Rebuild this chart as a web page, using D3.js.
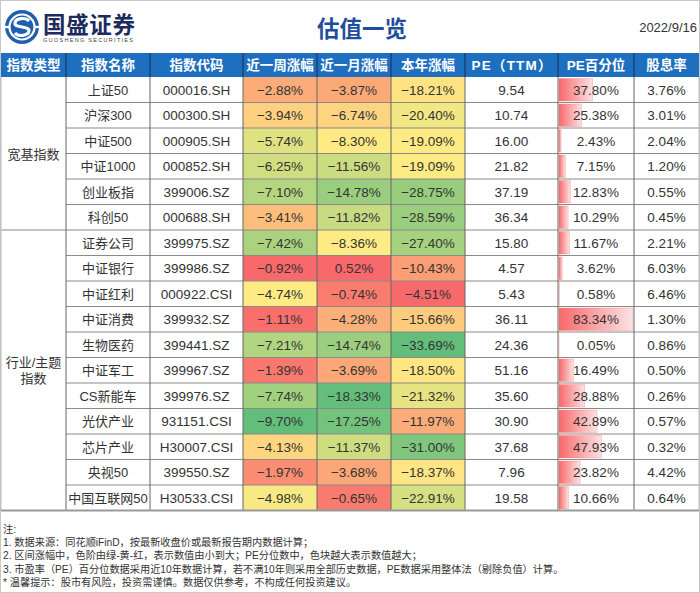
<!DOCTYPE html>
<html><head><meta charset="utf-8">
<script src="https://cdn.jsdelivr.net/npm/d3@7"></script>
<style>
html,body{margin:0;padding:0;background:#fff;}
svg{display:block;}
</style></head>
<body>
<svg id="chart" width="700" height="593"></svg>
<script>
// ---------- data ----------
const headers = ["指数类型","指数名称","指数代码","近一周涨幅","近一月涨幅","本年涨幅","PE（TTM）","PE百分位","股息率"];
const groups = [{name:["宽基指数"], count:6}, {name:["行业/主题","指数"], count:11}];
const names = ["上证50","沪深300","中证500","中证1000","创业板指","科创50","证券公司","中证银行","中证红利","中证消费","生物医药","中证军工","CS新能车","光伏产业","芯片产业","央视50","中国互联网50"];
const codes = ["000016.SH","000300.SH","000905.SH","000852.SH","399006.SZ","000688.SH","399975.SZ","399986.SZ","000922.CSI","399932.SZ","399441.SZ","399967.SZ","399976.SZ","931151.CSI","H30007.CSI","399550.SZ","H30533.CSI"];
const weekChg = [-2.88,-3.94,-5.74,-6.25,-7.10,-3.41,-7.42,-0.92,-4.74,-1.11,-7.21,-1.39,-7.74,-9.70,-4.13,-1.97,-4.98];
const monthChg = [-3.87,-6.74,-8.30,-11.56,-14.78,-11.82,-8.36,0.52,-0.74,-4.28,-14.74,-3.69,-18.33,-17.25,-11.37,-3.68,-0.65];
const yearChg = [-18.21,-20.40,-19.09,-19.09,-28.75,-28.59,-27.40,-10.43,-4.51,-15.66,-33.69,-18.50,-21.32,-11.97,-31.00,-18.37,-22.91];
const peTTM = [9.54,10.74,16.00,21.82,37.19,36.34,15.80,4.57,5.43,36.11,24.36,51.16,35.60,30.90,37.68,7.96,19.58];
const pePct = [37.80,25.38,2.43,7.15,12.83,10.29,11.67,3.62,0.58,83.34,0.05,16.49,28.88,42.89,47.93,23.82,10.66];
const divYield = [3.76,3.01,2.04,1.20,0.55,0.45,2.21,6.03,6.46,1.30,0.86,0.50,0.26,0.57,0.32,4.42,0.64];
const title = "估值一览";
const dateText = "2022/9/16";
const notes = [
  "注:",
  "1. 数据来源：同花顺iFinD，按最新收盘价或最新报告期内数据计算；",
  "2. 区间涨幅中，色阶由绿-黄-红，表示数值由小到大；PE分位数中，色块越大表示数值越大；",
  "3. 市盈率（PE）百分位数据采用近10年数据计算，若不满10年则采用全部历史数据，PE数据采用整体法（剔除负值）计算。",
  "* 温馨提示：股市有风险，投资需谨慎。数据仅供参考，不构成任何投资建议。"
];

// ---------- layout ----------
const svg = d3.select("#chart");
const colEdges = [1, 66, 150, 243, 317, 391, 465, 558, 634, 699];
const headTop = 53, headBot = 77, tableBot = 510.5;
const n = names.length;
const y = d3.scaleBand().domain(d3.range(n)).range([headBot, tableBot]).padding(0);
const rh = y.bandwidth();
const cx = i => (colEdges[i] + colEdges[i+1]) / 2;
const bodyFont = "'Liberation Sans','Noto Sans CJK SC',Arial,sans-serif";
const cjkFont = "'Noto Sans CJK SC','Liberation Sans',sans-serif";

// outer frame
svg.append("rect").attr("x",0.5).attr("y",0.5).attr("width",699).attr("height",592)
  .attr("fill","#fff").attr("stroke","#c8c8c8");

// ---------- logo ----------
const logo = svg.append("g").attr("transform","translate(22,27)");
logo.append("circle").attr("r",17).attr("fill","#1f5fae");
logo.append("circle").attr("r",12.5).attr("fill","none").attr("stroke","#fff").attr("stroke-width",2.2);
logo.append("path")
  .attr("d","M7,-6 C4,-10 -7,-9 -7,-3.5 C-7,1 7,-1 7,3.5 C7,9 -4,10 -7,6")
  .attr("fill","none").attr("stroke","#fff").attr("stroke-width",3.2).attr("stroke-linecap","butt");
logo.append("rect").attr("x",-17).attr("y",-1.2).attr("width",5).attr("height",2.4).attr("fill","#fff");
logo.append("rect").attr("x",12).attr("y",-1.2).attr("width",5).attr("height",2.4).attr("fill","#fff");
svg.append("text").attr("x",43).attr("y",33).attr("font-family",bodyFont).attr("font-weight","bold")
  .attr("font-size",22.5).attr("fill","#1b2b5e").attr("textLength",92).text("国盛证券");
svg.append("text").attr("x",43).attr("y",42).attr("font-family",bodyFont)
  .attr("font-size",5.5).attr("fill","#444").attr("textLength",90).attr("lengthAdjust","spacing")
  .text("GUOSHENG SECURITIES");

// title & date
svg.append("text").attr("x",362).attr("y",37).attr("text-anchor","middle")
  .attr("font-family",cjkFont).attr("font-weight","bold").attr("font-size",22.5)
  .attr("fill","#1f4f9c").text(title);
svg.append("text").attr("x",697).attr("y",32).attr("text-anchor","end")
  .attr("font-family",bodyFont).attr("font-size",13).attr("fill","#333").text(dateText);

// ---------- header ----------
svg.append("rect").attr("x",colEdges[0]).attr("y",headTop)
  .attr("width",colEdges[9]-colEdges[0]).attr("height",headBot-headTop).attr("fill","#1e6fbf");
headers.forEach((h,i)=>{
  const t = svg.append("text").attr("x",cx(i)).attr("y",(headTop+headBot)/2+4.8).attr("text-anchor","middle")
    .attr("font-family",bodyFont).attr("font-weight","bold").attr("font-size",13.5)
    .attr("fill","#fff").text(h);
  if (i===6) t.attr("textLength",80).attr("lengthAdjust","spacing");
});
colEdges.slice(1,-1).forEach(x=>{
  svg.append("line").attr("x1",x).attr("x2",x).attr("y1",headTop).attr("y2",headBot)
    .attr("stroke","#1b2f4c").attr("stroke-width",1);
});

// ---------- color scales ----------
function colorScale(vals){
  const s = vals.slice().sort(d3.ascending);
  return d3.scaleLinear().domain([s[0], d3.median(s), s[s.length-1]])
    .range(["#63BE7B","#FFEB84","#F8696B"]).interpolate(d3.interpolateRgb);
}
const cW = colorScale(weekChg), cM = colorScale(monthChg), cY = colorScale(yearChg);
const fmtPct = d3.format(".2f");
const fmtNum = d3.format(".2f");

const body = svg.append("g");
// colored cells
[[weekChg,cW,3],[monthChg,cM,4],[yearChg,cY,5]].forEach(([vals,sc,ci])=>{
  body.selectAll(null).data(vals).join("rect")
    .attr("x",colEdges[ci]).attr("y",(d,i)=>y(i))
    .attr("width",colEdges[ci+1]-colEdges[ci]).attr("height",rh)
    .attr("fill",d=>sc(d));
});

// data bars
const defs = svg.append("defs");
const grad = defs.append("linearGradient").attr("id","barGrad").attr("x1","0").attr("x2","1").attr("y1","0").attr("y2","0");
grad.append("stop").attr("offset","0%").attr("stop-color","#F8696B");
grad.append("stop").attr("offset","100%").attr("stop-color","#FDE2E3");
const bx = d3.scaleLinear().domain([0, d3.max(pePct)]).range([colEdges[7]+1, colEdges[8]-1]);
body.selectAll(null).data(pePct).join("rect")
  .attr("x",bx(0)).attr("y",(d,i)=>y(i)+1.5)
  .attr("width",d=>Math.max(0, bx(d)-bx(0))).attr("height",rh-3)
  .attr("fill","url(#barGrad)").attr("stroke","#F8696B").attr("stroke-opacity",0.35).attr("stroke-width",0.8);

// grid lines: horizontal
const hLines = d3.range(1,n).map(i=>y(i));
let start=0; const groupBounds=[];
groups.forEach(g=>{ groupBounds.push(start+g.count); start+=g.count; });
body.selectAll(null).data(hLines).join("line")
  .attr("x1",(d,i)=> groupBounds.includes(i+1) ? colEdges[0] : colEdges[1])
  .attr("x2",colEdges[9]).attr("y1",d=>d).attr("y2",d=>d)
  .attr("stroke","#8a8a8a").attr("stroke-width",1);
// vertical
colEdges.slice(1,-1).forEach(x=>{
  body.append("line").attr("x1",x).attr("x2",x).attr("y1",headBot).attr("y2",tableBot)
    .attr("stroke","#666").attr("stroke-width",1);
});
body.append("line").attr("x1",colEdges[0]).attr("x2",colEdges[0]).attr("y1",headBot).attr("y2",tableBot)
  .attr("stroke","#bbb");
body.append("line").attr("x1",colEdges[9]).attr("x2",colEdges[9]).attr("y1",headBot).attr("y2",tableBot)
  .attr("stroke","#bbb");
body.append("line").attr("x1",colEdges[0]).attr("x2",colEdges[9]).attr("y1",tableBot).attr("y2",tableBot)
  .attr("stroke","#999").attr("stroke-width",2);

// text cells
const columns = [
  [names, d=>d, 1, 13],
  [codes, d=>d, 2, 13.5],
  [weekChg, d=>fmtPct(d)+"%", 3, 13.5],
  [monthChg, d=>fmtPct(d)+"%", 4, 13.5],
  [yearChg, d=>fmtPct(d)+"%", 5, 13.5],
  [peTTM, d=>fmtNum(d), 6, 13.5],
  [pePct, d=>fmtPct(d)+"%", 7, 13.5],
  [divYield, d=>fmtPct(d)+"%", 8, 13.5]
];
columns.forEach(([vals,fmt,ci,fs])=>{
  body.selectAll(null).data(vals).join("text")
    .attr("x",cx(ci)).attr("y",(d,i)=>y(i)+rh/2+5)
    .attr("text-anchor","middle").attr("font-family",bodyFont).attr("font-size",fs)
    .attr("fill","#333").text(fmt);
});

// group labels
start = 0;
groups.forEach(g=>{
  const y0 = y(start), y1 = start+g.count>=n ? tableBot : y(start+g.count);
  const mid = (y0+y1)/2;
  const lh = 16;
  g.name.forEach((t,k)=>{
    svg.append("text").attr("x",cx(0)).attr("y",mid + (k-(g.name.length-1)/2)*lh + 5)
      .attr("text-anchor","middle").attr("font-family",bodyFont).attr("font-size",13)
      .attr("fill","#333").text(t);
  });
  start += g.count;
});

// notes
notes.forEach((t,i)=>{
  svg.append("text").attr("x",3).attr("y",532.5+i*13.4)
    .attr("font-family",bodyFont).attr("font-size",10.2).attr("fill","#333").text(t);
});
</script>
</body></html>
